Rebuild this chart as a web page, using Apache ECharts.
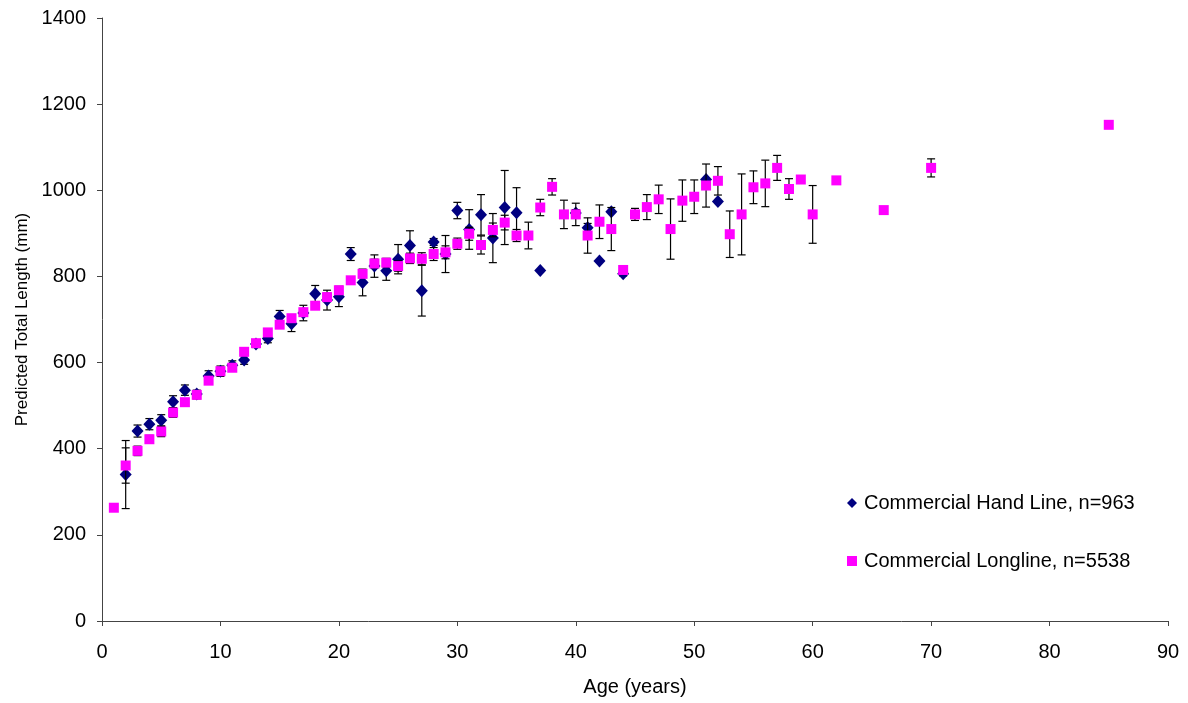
<!DOCTYPE html>
<html>
<head>
<meta charset="utf-8">
<script src="https://cdn.jsdelivr.net/npm/echarts@6/dist/echarts.min.js"></script>
<style>
  html, body { margin: 0; padding: 0; background: #fff; }
  #chart { width: 1188px; height: 703px; }
</style>
</head>
<body>
<div id="chart"></div>
<script>
// Commercial hand line: age (years), predicted total length (mm), error (+/- mm)
const handLineAges = [2, 3, 4, 5, 6, 7, 8, 9, 10, 11, 12, 13, 14, 15, 16, 17, 18, 19, 20, 21, 22, 23, 24, 25, 26, 27, 28, 29, 30, 31, 32, 33, 34, 35, 37, 40, 41, 42, 43, 44, 51, 52];
const handLineLength = [340, 441, 457, 466, 509, 536, 527, 569, 580, 594, 606, 643, 656, 707, 690, 715, 760, 745, 753, 852, 786, 824, 813, 840, 872, 767, 880, 852, 953, 909, 943, 889, 960, 948, 814, 947, 913, 836, 950, 806, 1025, 974];
const handLineErr = [79, 14, 13, 13, 14, 12, 9, 12, 12, 10, 10, 8, 10, 14, 18, 18, 19, 23, 23, 15, 31, 26, 22, 34, 34, 59, 8, 43, 19, 46, 47, 57, 86, 58, 0, 8, 10, 0, 0, 5, 0, 0];

// Commercial longline: age (years), predicted total length (mm), error (+/- mm)
const longlineAges = [1, 2, 3, 4, 5, 6, 7, 8, 9, 10, 11, 12, 13, 14, 15, 16, 17, 18, 19, 20, 21, 22, 23, 24, 25, 26, 27, 28, 29, 30, 31, 32, 33, 34, 35, 36, 37, 38, 39, 40, 41, 42, 43, 44, 45, 46, 47, 48, 49, 50, 51, 52, 53, 54, 55, 56, 57, 58, 59, 60, 62, 66, 70, 85];
const longlineLength = [263, 361, 395, 422, 440, 484, 508, 525, 558, 580, 588, 625, 645, 670, 688, 703, 717, 732, 752, 768, 791, 806, 830, 832, 824, 842, 841, 852, 856, 876, 899, 873, 908, 925, 895, 895, 960, 1008, 944, 944, 895, 927, 910, 815, 944, 961, 979, 910, 976, 985, 1011, 1022, 898, 944, 1007, 1016, 1052, 1003, 1025, 944, 1023, 954, 1052, 1152];
const longlineErr = [0, 41, 11, 9, 12, 11, 8, 9, 8, 8, 8, 7, 7, 7, 7, 8, 8, 8, 9, 9, 8, 9, 10, 10, 12, 12, 14, 15, 15, 13, 15, 21, 16, 17, 14, 31, 19, 19, 33, 26, 41, 39, 50, 5, 14, 29, 33, 70, 48, 39, 50, 33, 54, 94, 38, 54, 29, 24, 0, 67, 0, 0, 21, 0];

const xTicks = { min: 0, max: 90, interval: 10 };
const yTicks = { min: 0, max: 1400, interval: 200 };

const FONT = '"Liberation Sans", Arial, sans-serif';

function zip(ages, vals) { return ages.map((a, i) => [a, vals[i]]); }
function zipErr(ages, vals, errs) { return ages.map((a, i) => [a, vals[i], errs[i]]); }

// Vertical error bar with horizontal end caps
function renderErrorBar(params, api) {
  const x = api.value(0);
  const y = api.value(1);
  const e = api.value(2);
  if (!e) return null;
  const hi = api.coord([x, y + e]);
  const lo = api.coord([x, y - e]);
  const cap = 4;
  const style = { stroke: '#000', lineWidth: 1.2 };
  return {
    type: 'group',
    children: [
      { type: 'line', shape: { x1: hi[0], y1: hi[1], x2: lo[0], y2: lo[1] }, style },
      { type: 'line', shape: { x1: hi[0] - cap, y1: hi[1], x2: hi[0] + cap, y2: hi[1] }, style },
      { type: 'line', shape: { x1: lo[0] - cap, y1: lo[1], x2: lo[0] + cap, y2: lo[1] }, style }
    ]
  };
}

const chart = echarts.init(document.getElementById('chart'), null, { renderer: 'canvas' });

const axisLineStyle = { color: '#444', width: 1 };

chart.setOption({
  animation: false,
  backgroundColor: '#fff',
  textStyle: { fontFamily: FONT },
  grid: { left: 102, right: 20, top: 18, bottom: 82, containLabel: false },
  xAxis: {
    type: 'value',
    min: xTicks.min, max: xTicks.max, interval: xTicks.interval,
    name: 'Age (years)',
    nameLocation: 'middle',
    nameGap: 56,
    nameTextStyle: { fontSize: 20, color: '#000', fontFamily: FONT },
    axisLine: { show: true, onZero: false, lineStyle: axisLineStyle },
    axisTick: { show: true, length: 5, inside: false, lineStyle: axisLineStyle },
    axisLabel: { fontSize: 20, color: '#000', margin: 21, fontFamily: FONT },
    splitLine: { show: false }
  },
  yAxis: {
    type: 'value',
    min: yTicks.min, max: yTicks.max, interval: yTicks.interval,
    name: 'Predicted Total Length (mm)',
    nameLocation: 'middle',
    nameGap: 71,
    nameTextStyle: { fontSize: 17, color: '#000', fontFamily: FONT },
    axisLine: { show: true, onZero: false, lineStyle: axisLineStyle },
    axisTick: { show: true, length: 5, inside: false, lineStyle: axisLineStyle },
    axisLabel: { fontSize: 20, color: '#000', margin: 16, fontFamily: FONT, formatter: v => String(v) },
    splitLine: { show: false }
  },
  legend: {
    orient: 'vertical',
    left: 842,
    top: 488,
    itemGap: 38,
    itemWidth: 10,
    itemHeight: 10,
    data: [
      { name: 'Commercial Hand Line, n=963', icon: 'diamond' },
      { name: 'Commercial Longline, n=5538', icon: 'rect' }
    ],
    textStyle: { fontSize: 20, lineHeight: 20, color: '#000', fontFamily: FONT, padding: [0, 0, 0, 2] }
  },
  series: [
    {
      name: 'handLineErr',
      type: 'custom',
      renderItem: renderErrorBar,
      data: zipErr(handLineAges, handLineLength, handLineErr),
      encode: { x: 0, y: 1 },
      z: 2,
      silent: true
    },
    {
      name: 'Commercial Hand Line, n=963',
      type: 'scatter',
      symbol: 'diamond',
      symbolSize: [12, 13],
      itemStyle: { color: '#000080', opacity: 1 },
      data: zip(handLineAges, handLineLength),
      z: 3
    },
    {
      name: 'longlineErr',
      type: 'custom',
      renderItem: renderErrorBar,
      data: zipErr(longlineAges, longlineLength, longlineErr),
      encode: { x: 0, y: 1 },
      z: 4,
      silent: true
    },
    {
      name: 'Commercial Longline, n=5538',
      type: 'scatter',
      symbol: 'rect',
      symbolSize: 10,
      itemStyle: { color: '#FF00FF', opacity: 1 },
      data: zip(longlineAges, longlineLength),
      z: 5
    }
  ]
});
</script>
</body>
</html>
